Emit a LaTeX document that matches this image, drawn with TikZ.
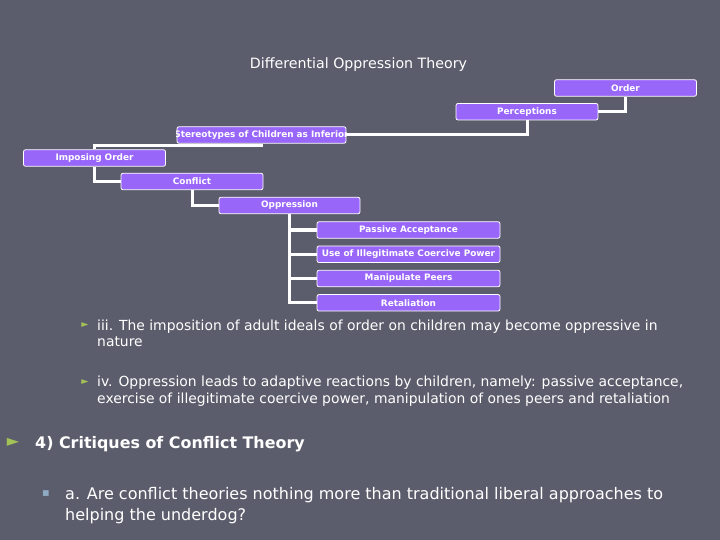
\documentclass[tikz,border=0pt]{standalone}
\usepackage{fontspec}
\setmainfont{DejaVu Sans}
\definecolor{bg}{HTML}{5C5D6C}
\definecolor{boxpurple}{HTML}{9966FA}
\definecolor{bulletgreen}{HTML}{A3C257}
\definecolor{bulletblue}{HTML}{8FAAC2}
\begin{document}
\begin{tikzpicture}[x=1pt,y=-1pt,
  box/.style={draw=white, line width=0.8pt, rounded corners=2pt, fill=boxpurple,
    text=white, font=\bfseries\fontsize{8.9}{10}\selectfont, minimum height=16.5pt, inner sep=0pt},
  wide/.style={minimum width=142pt},
  kid/.style={minimum width=183pt},
  conn/.style={draw=white, line width=3pt},
  body/.style={text=white, anchor=base west, inner sep=0pt, font=\fontsize{13.9}{15}\selectfont},
  head/.style={text=white, anchor=base west, inner sep=0pt, font=\bfseries\fontsize{15.9}{17}\selectfont},
  sub/.style={text=white, anchor=base west, inner sep=0pt, font=\fontsize{16}{18}\selectfont}]
\useasboundingbox (0,0) rectangle (720,540);
\fill[bg] (0,0) rectangle (720,540);

\node[text=white, anchor=base, inner sep=0pt, font=\fontsize{14.2}{16}\selectfont] (title) at (358.5,69) {Differential Oppression Theory};

\coordinate (orderC) at (625.5,88);
\coordinate (percC) at (527,111.7);
\coordinate (stereoC) at (261.5,135);
\coordinate (impC) at (94.5,158);
\coordinate (confC) at (192,181.5);
\coordinate (oppC) at (289.5,205.5);

\node[box, wide] (order) at (orderC) {Order};
\node[box, wide] (perc) at (percC) {Perceptions};
\node[box, minimum width=169pt] (stereo) at (stereoC) {};
\node[box, wide] (imp) at (impC) {Imposing Order};
\node[box, wide] (conf) at (confC) {Conflict};
\node[box, minimum width=141pt] (opp) at (oppC) {Oppression};
\node[box, kid] (pa) at (408.5,230) {Passive Acceptance};
\node[box, kid] (ui) at (408.5,254.2) {Use of Illegitimate Coercive Power};
\node[box, kid] (mp) at (408.5,278.5) {Manipulate Peers};
\node[box, kid] (re) at (408.5,302.8) {Retaliation};

\begin{scope}
\clip (stereo.south west) rectangle (stereo.north east);
\node[text=white, font=\bfseries\fontsize{8.9}{10}\selectfont, inner sep=0pt] (stereotext) at (stereo.center) {Stereotypes of Children as Inferior};
\end{scope}

\coordinate (knee) at (94.5,146);
\draw[conn] (order.south) |- (perc.east);
\draw[conn] (perc.south) |- (stereo.east);
\draw[conn] (stereo.south) |- (knee) -- (imp.north);
\draw[conn] (imp.south) |- (conf.west);
\draw[conn] (conf.south) |- (opp.west);
\draw[conn] (opp.south) |- (pa.west);
\draw[conn] (opp.south) |- (ui.west);
\draw[conn] (opp.south) |- (mp.west);
\draw[conn] (opp.south) |- (re.west);

\node[text=bulletgreen, inner sep=0pt, font=\fontsize{9.5}{9}\selectfont] (b1) at (85,325.5) {►};
\node[body] (t1a) at (97,330) {iii. The imposition of adult ideals of order on children may become oppressive in};
\node[body] (t1b) at (97,346) {nature};
\node[text=bulletgreen, inner sep=0pt, font=\fontsize{9.5}{9}\selectfont] (b2) at (85,382) {►};
\node[body] (t2a) at (97,386.5) {iv. Oppression leads to adaptive reactions by children, namely: passive acceptance,};
\node[body] (t2b) at (97,403) {exercise of illegitimate coercive power, manipulation of ones peers and retaliation};
\node[text=bulletgreen, inner sep=0pt, font=\fontsize{16}{16}\selectfont] (b3) at (13,442) {►};
\node[head] (t3) at (35,448) {4) Critiques of Conflict Theory};
\node[text=bulletblue, inner sep=0pt, font=\fontsize{7.5}{7}\selectfont] (b4) at (46,494) {■};
\node[sub] (t4a) at (65,499.5) {a. Are conflict theories nothing more than traditional liberal approaches to};
\node[sub] (t4b) at (65,520) {helping the underdog?};
\end{tikzpicture}
\end{document}
